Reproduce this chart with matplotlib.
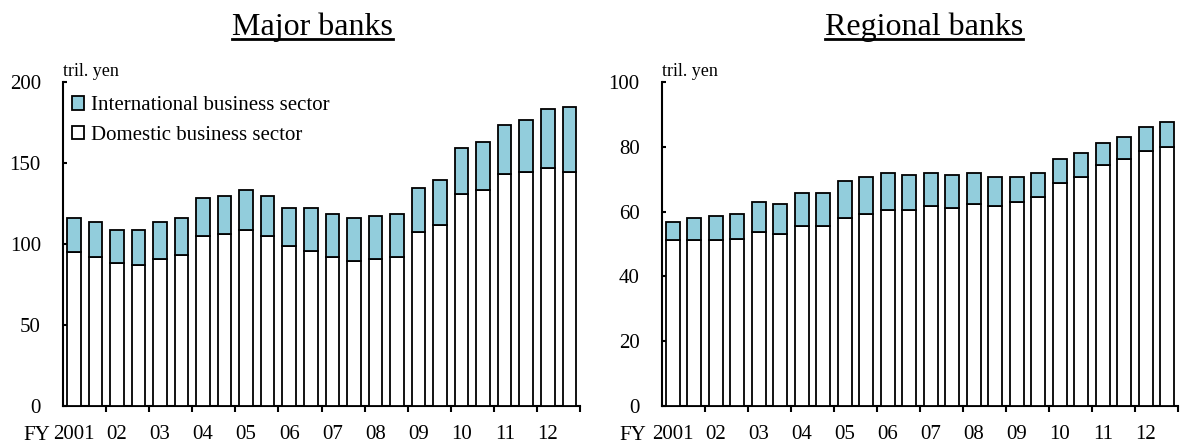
import numpy as np
import matplotlib
matplotlib.use("Agg")
import matplotlib.pyplot as plt
from matplotlib.lines import Line2D
from matplotlib.patches import Patch

# ── Data (tril. yen, half-year points FY2001 H1 .. FY2012 H2) ────────────────
year_labels = ["2001", "02", "03", "04", "05", "06", "07", "08", "09", "10", "11", "12"]

major_total = [116.0, 113.4, 108.6, 108.6, 113.4, 116.0, 128.6, 129.8, 133.5, 129.8,
               122.2, 122.2, 118.5, 116.0, 117.3, 118.5, 134.6, 139.7, 159.3, 163.2,
               173.5, 176.7, 183.1, 184.6]
major_domestic = [95.2, 92.2, 88.2, 86.9, 91.0, 93.3, 104.9, 106.0, 108.4, 104.9,
                  99.0, 95.9, 92.2, 89.6, 91.0, 92.2, 107.2, 111.9, 131.1, 133.5,
                  143.4, 144.7, 146.9, 144.7]

regional_total = [56.8, 58.1, 58.8, 59.3, 63.0, 62.4, 65.6, 65.6, 69.4, 70.6,
                  71.8, 71.3, 71.8, 71.3, 71.8, 70.6, 70.6, 71.8, 76.2, 78.1,
                  81.3, 83.1, 86.2, 87.6]
regional_domestic = [51.1, 51.1, 51.1, 51.7, 53.6, 53.1, 55.5, 55.5, 58.0, 59.3,
                     60.5, 60.5, 61.7, 61.2, 62.4, 61.7, 63.0, 64.4, 68.7, 70.6,
                     74.3, 76.2, 78.8, 80.0]

C_INTL = "#92CDDC"
FONT = "Liberation Serif"

plt.rcParams.update({
    "font.family": FONT,
    "font.size": 15,
    "axes.linewidth": 1.5,
})

fig = plt.figure(figsize=(11.87, 4.47), dpi=100)
ax_l = fig.add_axes([0.0531, 0.0917, 0.4356, 0.7248])
ax_r = fig.add_axes([0.5577, 0.0917, 0.4347, 0.7248])


def draw_panel(ax, total, domestic, ymax, ystep, fy_x):
    x = np.arange(len(total))
    intl = np.array(total) - np.array(domestic)
    ax.bar(x, domestic, width=0.63, color="white", edgecolor="black",
           linewidth=1.3, label="Domestic business sector", zorder=3)
    ax.bar(x, intl, bottom=domestic, width=0.63, color=C_INTL, edgecolor="black",
           linewidth=1.3, label="International business sector", zorder=3)

    ax.set_xlim(-0.5, len(total) - 0.5)
    ax.set_ylim(0, ymax)
    ax.set_yticks(np.arange(0, ymax + 1, ystep))
    ax.tick_params(axis="y", direction="in", length=3, width=1.5, pad=16, labelsize=15)

    # year labels under the first half of each fiscal year, ticks at year boundaries
    ax.set_xticks(np.arange(0, len(total), 2))
    ax.set_xticklabels(year_labels)
    ax.set_xticks(np.arange(1.5, len(total), 2), minor=True)
    ax.tick_params(axis="x", which="major", length=0, pad=14, labelsize=15)
    ax.tick_params(axis="x", which="minor", direction="out", length=4.5, width=1.5)

    for s in ["top", "right"]:
        ax.spines[s].set_visible(False)

    ax.text(0.0, 1.005, "tril. yen", transform=ax.transAxes, ha="left", va="bottom",
            fontsize=13)
    ax.text(fy_x, -0.09, "FY", transform=ax.transAxes, ha="right", va="center",
            fontsize=15)


draw_panel(ax_l, major_total, major_domestic, 200, 50, -0.025)
draw_panel(ax_r, regional_total, regional_domestic, 100, 20, -0.030)

handles = [Patch(facecolor=C_INTL, edgecolor="black", linewidth=1.3),
           Patch(facecolor="white", edgecolor="black", linewidth=1.3)]
ax_l.legend(handles, ["International business sector", "Domestic business sector"],
            loc="upper left", bbox_to_anchor=(0.017, 0.956), frameon=False,
            borderpad=0, borderaxespad=0, handlelength=0.6, handleheight=0.6,
            handletextpad=0.3, labelspacing=0.5, fontsize=15)

# underlined panel titles
titles = [("Major banks", 312.5 / 1187), ("Regional banks", 924 / 1187)]
renderer = fig.canvas.get_renderer()
for text, xc in titles:
    t = fig.text(xc, 1 - 35 / 447, text, ha="center", va="baseline", fontsize=23)
    bb = t.get_window_extent(renderer=renderer).transformed(fig.transFigure.inverted())
    y_line = 1 - 39 / 447
    fig.add_artist(Line2D([bb.x0, bb.x1], [y_line, y_line], color="black",
                          linewidth=2, transform=fig.transFigure))

fig.savefig("out.png", dpi=100)
